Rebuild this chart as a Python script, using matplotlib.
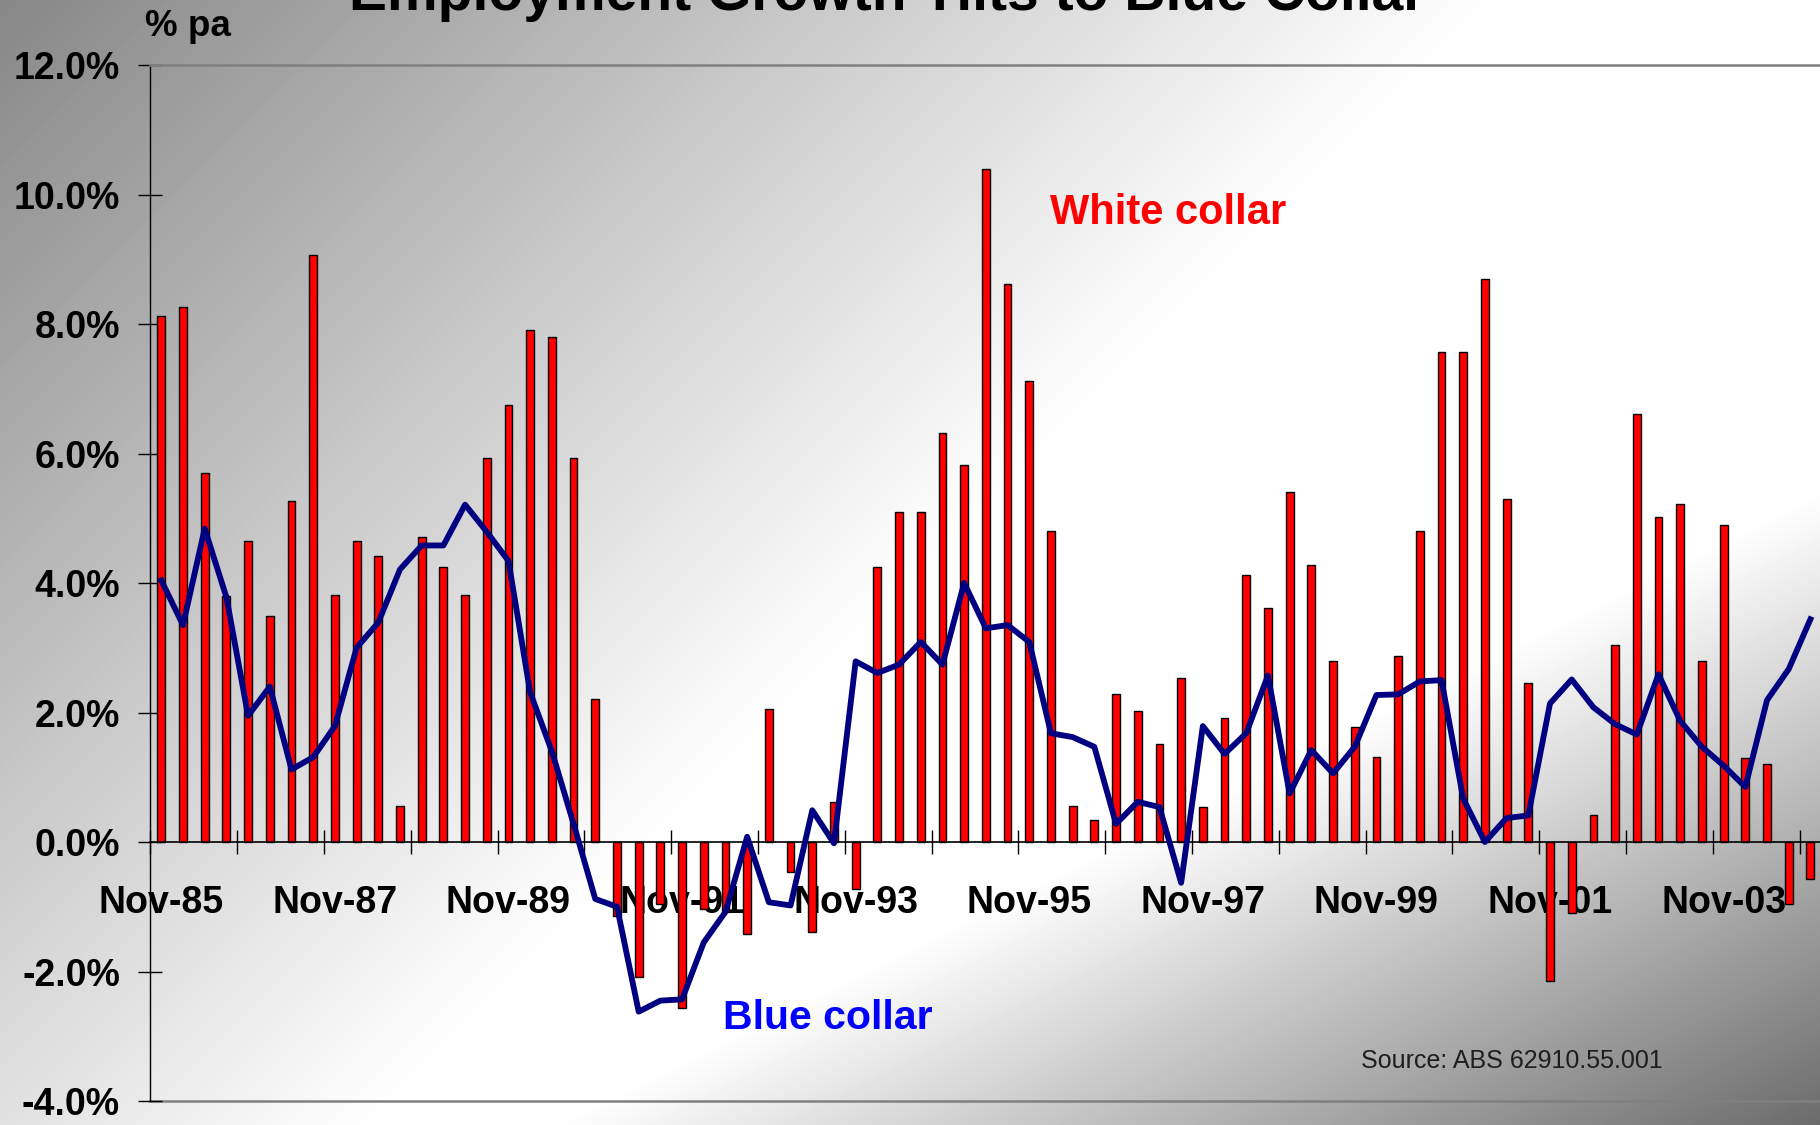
import numpy as np
import matplotlib
matplotlib.use('Agg')
import matplotlib.pyplot as plt

plt.rcParams['font.family'] = ['Liberation Sans', 'DejaVu Sans']

# quarterly growth, % pa, Nov-85 .. Nov-04
white_collar = [8.13, 8.26, 5.70, 3.80, 4.65, 3.49, 5.27, 9.06, 3.82, 4.65,
                4.42, 0.56, 4.71, 4.25, 3.82, 5.93, 6.75, 7.90, 7.80, 5.93,
                2.21, -1.14, -2.09, -0.95, -2.57, -1.03, -1.08, -1.42, 2.05, -0.46,
                -1.39, 0.62, -0.72, 4.25, 5.10, 5.10, 6.32, 5.83, 10.40, 8.62,
                7.12, 4.81, 0.56, 0.34, 2.28, 2.02, 1.52, 2.54, 0.54, 1.91,
                4.12, 3.62, 5.41, 4.28, 2.80, 1.78, 1.32, 2.87, 4.81, 7.57,
                7.57, 8.69, 5.30, 2.46, -2.14, -1.09, 0.41, 3.04, 6.61, 5.02,
                5.22, 2.79, 4.89, 1.29, 1.20, -0.96, -0.57]
blue_collar = [4.04, 3.35, 4.84, 3.78, 1.95, 2.40, 1.12, 1.31, 1.79, 3.00,
               3.39, 4.21, 4.58, 4.58, 5.21, 4.79, 4.34, 2.31, 1.40, 0.28,
               -0.88, -1.00, -2.62, -2.45, -2.43, -1.55, -1.08, 0.08, -0.93, -0.98,
               0.49, -0.02, 2.79, 2.61, 2.74, 3.09, 2.74, 4.00, 3.30, 3.35,
               3.09, 1.68, 1.62, 1.47, 0.28, 0.62, 0.54, -0.63, 1.79, 1.36,
               1.68, 2.57, 0.75, 1.42, 1.06, 1.47, 2.27, 2.28, 2.48, 2.50,
               0.67, 0.00, 0.37, 0.41, 2.14, 2.51, 2.08, 1.82, 1.66, 2.59,
               1.87, 1.47, 1.18, 0.85, 2.19, 2.67, 3.44]
tick_labels = ['Nov-85', 'Nov-87', 'Nov-89', 'Nov-91', 'Nov-93',
               'Nov-95', 'Nov-97', 'Nov-99', 'Nov-01', 'Nov-03']
y_ticks = [-4, -2, 0, 2, 4, 6, 8, 10, 12]

fig = plt.figure(figsize=(18.2, 11.25), dpi=100)

# grey background: dark top-left and bottom-right, white in the middle
h, w = 1125, 1820
yy, xx = np.mgrid[0:h, 0:w]
rise = np.clip(0.53 + 0.47 * (xx + yy) / 1500, None, 1.0)
fall = np.interp(xx + 2 * yy, [2800, 4070], [1.0, 0.42])
shade = np.minimum(rise, fall)
bg = fig.add_axes([0, 0, 1, 1], zorder=0)
bg.imshow(shade, cmap='gray', vmin=0, vmax=1, aspect='auto', interpolation='bilinear')
bg.axis('off')

ax = fig.add_axes([0.08267, 0.02133, 0.9173, 0.92089], zorder=1)
ax.patch.set_alpha(0)

x = np.arange(len(white_collar))
ax.bar(x, white_collar, width=0.36, color='#ff0000', edgecolor='black', linewidth=1.0, zorder=2)
ax.plot(x, blue_collar, color='#000080', lw=4.2, zorder=3)

ax.set_xlim(-0.5, 76.44)
ax.set_ylim(-4, 12)

ax.spines['right'].set_visible(False)
ax.spines['top'].set_color('#808080')
ax.spines['top'].set_linewidth(1.8)
ax.spines['left'].set_linewidth(1.0)
ax.spines['bottom'].set_position(('data', 0))
ax.spines['bottom'].set_linewidth(1.2)
ax.axhline(-4, color='#808080', lw=1.8, clip_on=False, zorder=1)

ax.set_xticks(x[::8])
ax.set_xticklabels(tick_labels, fontsize=27, fontweight='bold')
ax.set_xticks(np.arange(-0.5, len(x), 4), minor=True)
ax.tick_params(axis='x', which='major', length=0, pad=31)
ax.tick_params(axis='x', which='minor', direction='inout', length=17, width=1)

ax.set_yticks(y_ticks)
ax.set_yticklabels([f'{v:.1f}%' for v in y_ticks], fontsize=27, fontweight='bold')
ax.tick_params(axis='y', direction='inout', length=17, width=1, pad=13.5)

fig.text(0.4877, 0.9911, 'Employment Growth Tilts to Blue Collar', ha='center', va='baseline',
         fontsize=41, fontweight='bold')
fig.text(0.0797, 0.9684, '% pa', ha='left', va='baseline', fontsize=26.5, fontweight='bold')
fig.text(0.5769, 0.8006, 'White collar', ha='left', va='baseline', fontsize=30,
         fontweight='bold', color='#ff0000')
fig.text(0.3973, 0.0855, 'Blue collar', ha='left', va='baseline', fontsize=29.5,
         fontweight='bold', color='#0000ff')
fig.text(0.7478, 0.0509, 'Source: ABS 62910.55.001', ha='left', va='baseline',
         fontsize=18, color='#1e1e1e')

fig.savefig('out.png', dpi=100)
